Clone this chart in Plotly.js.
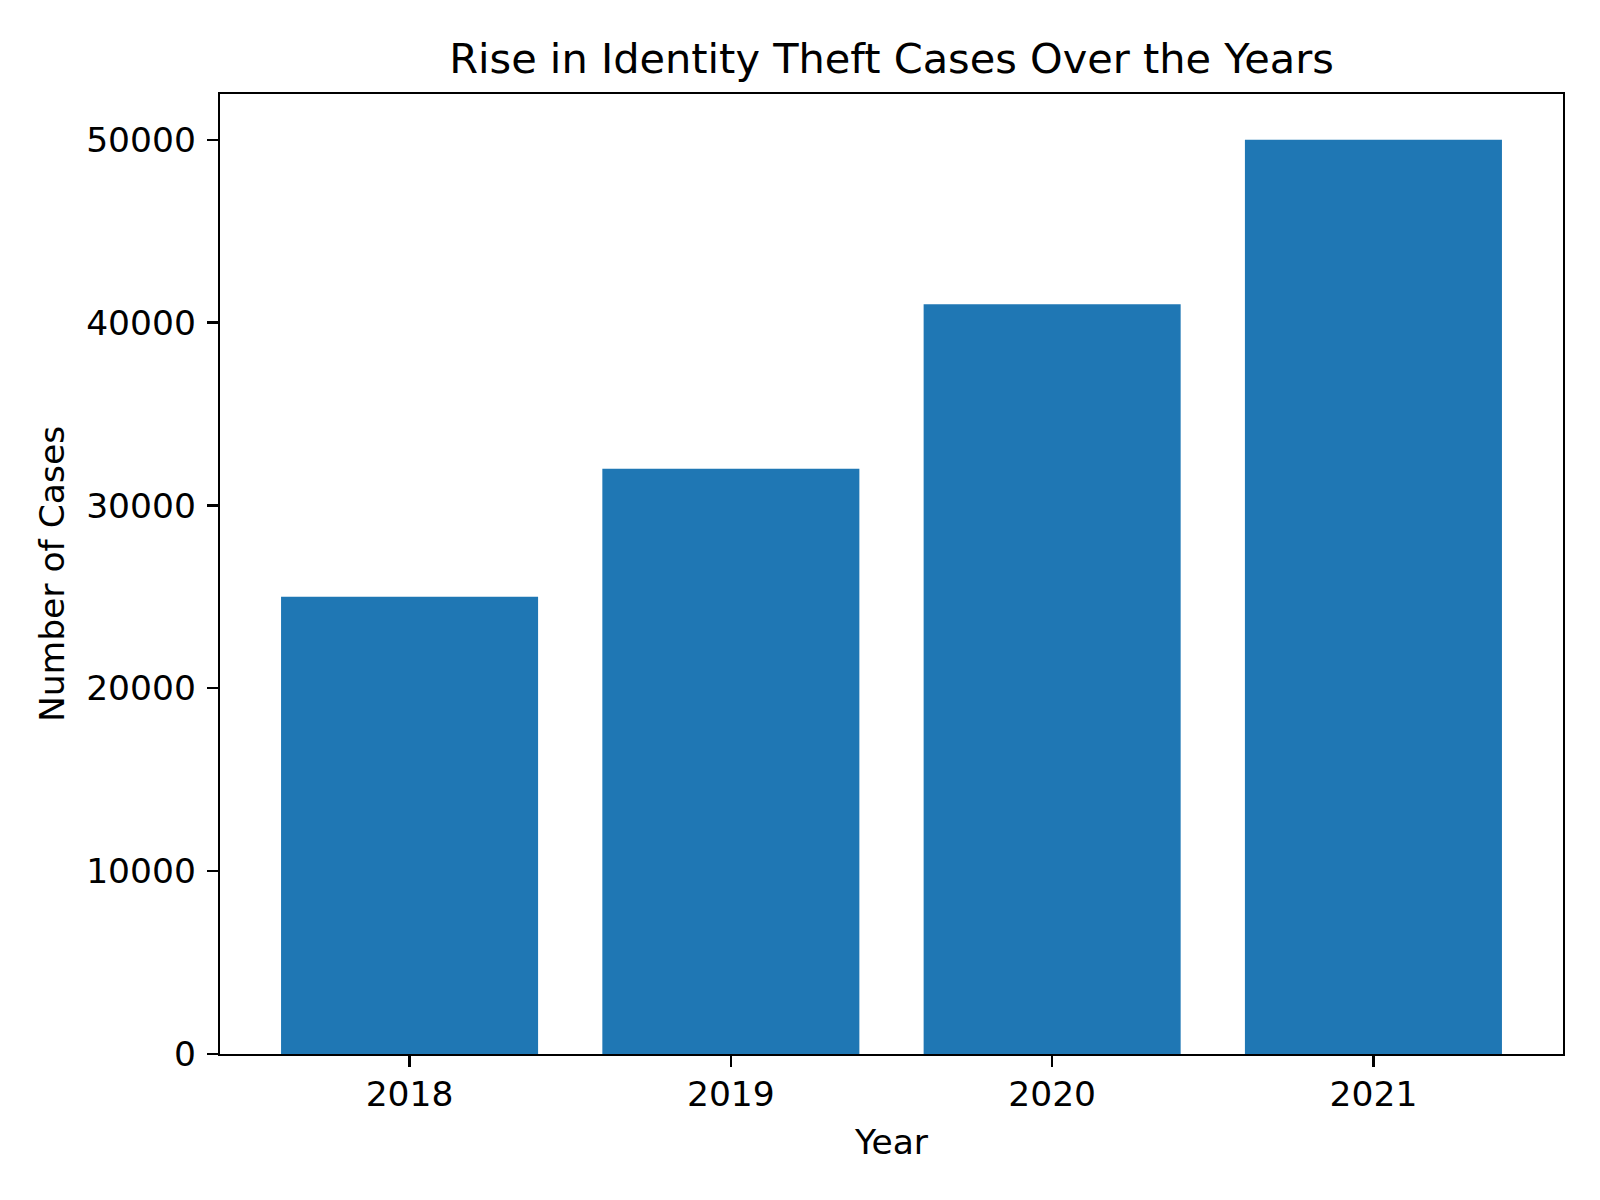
<!DOCTYPE html>
<html>
<head>
<meta charset="utf-8">
<script src="https://cdn.plot.ly/plotly-3.0.1.min.js"></script>
<style>html,body{margin:0;padding:0;background:#fff;}#chart{width:1600px;height:1200px;}</style>
</head>
<body>
<div id="chart"></div>
<script>
const years = ["2018", "2019", "2020", "2021"];
const cases = [25000, 32000, 41000, 50000];
const yTicks = [0, 10000, 20000, 30000, 40000, 50000];

const FONT = "DejaVu Sans, sans-serif";

const trace = {
  type: "bar",
  x: years,
  y: cases,
  width: 0.8,
  marker: {color: "#1f77b4", line: {width: 0}},
  hoverinfo: "x+y"
};

const layout = {
  width: 1600,
  height: 1200,
  paper_bgcolor: "#ffffff",
  plot_bgcolor: "#ffffff",
  margin: {l: 220, r: 37, t: 94, b: 146, pad: 0},
  font: {family: FONT, color: "#000000", size: 34.5},
  showlegend: false,
  title: {
    text: "Rise in Identity Theft Cases Over the Years",
    font: {family: FONT, size: 41.5, color: "#000000"},
    x: (220 + 1563) / 2 / 1600,
    xanchor: "center",
    y: 1 - 58 / 1200,
    yanchor: "middle"
  },
  xaxis: {
    type: "category",
    range: [-0.59, 3.59],
    showgrid: false,
    zeroline: false,
    showline: true,
    linecolor: "#000000",
    linewidth: 2.2,
    mirror: true,
    ticks: "outside",
    ticklen: 11,
    tickwidth: 2.2,
    tickcolor: "#000000",
    ticklabelstandoff: -3,
    tickfont: {family: FONT, size: 34.5, color: "#000000"},
    title: {text: "Year", font: {family: FONT, size: 34.5, color: "#000000"}, standoff: 17},
    automargin: false
  },
  yaxis: {
    range: [0, 52500],
    tickvals: yTicks,
    ticktext: yTicks.map(String),
    showgrid: false,
    zeroline: false,
    showline: true,
    linecolor: "#000000",
    linewidth: 2.2,
    mirror: true,
    ticks: "outside",
    ticklen: 11,
    tickwidth: 2.2,
    tickcolor: "#000000",
    ticklabelstandoff: 4,
    tickfont: {family: FONT, size: 34.5, color: "#000000"},
    title: {text: "Number of Cases", font: {family: FONT, size: 34.5, color: "#000000"}, standoff: 11},
    automargin: false
  }
};

Plotly.newPlot("chart", [trace], layout, {displayModeBar: false, staticPlot: true});
</script>
</body>
</html>
